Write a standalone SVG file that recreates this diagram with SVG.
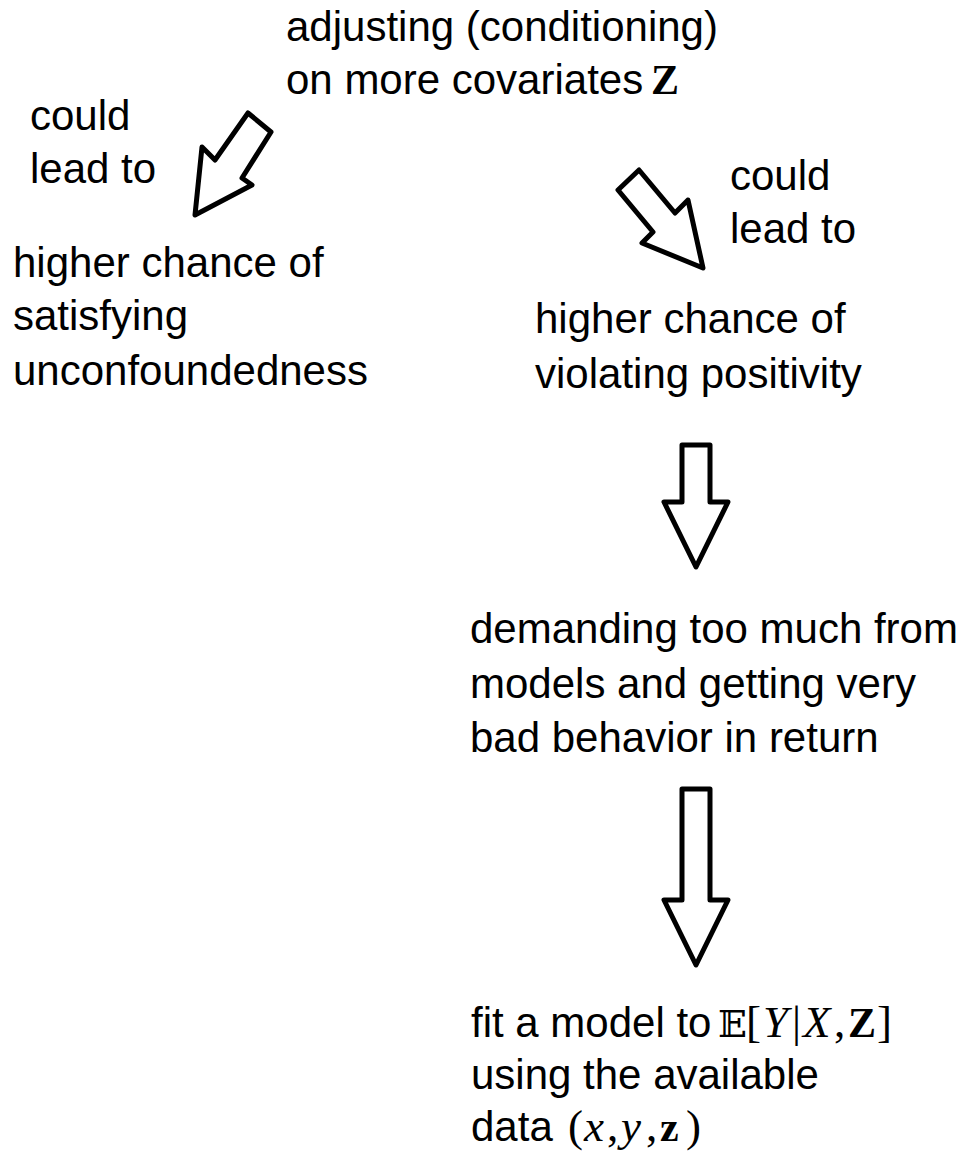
<svg xmlns="http://www.w3.org/2000/svg" width="966" height="1152" viewBox="0 0 966 1152">
<style>
text{font-family:"Liberation Sans",Arial,sans-serif;font-size:42px;fill:#000}
.m{font-family:"Liberation Serif","DejaVu Serif",serif;font-size:45px}
.i{font-style:italic}
.b{font-weight:bold;font-size:42px}
.ds{font-family:"DejaVu Serif","DejaVu Sans",serif;font-size:38px}
.arrow{fill:#fff;stroke:#000;stroke-width:5;stroke-linejoin:round}
</style>
<rect width="966" height="1152" fill="#fff"/>
<g id="n-adjust">
<text x="286" y="41">adjusting (conditioning)</text>
<text x="286" y="94">on more covariates</text>
<text class="m b" x="651" y="94">Z</text>
</g>
<g id="n-could1"><text x="30" y="130">could</text><text x="30" y="183">lead to</text></g>
<g id="n-could2"><text x="730" y="190">could</text><text x="730" y="243">lead to</text></g>
<g id="n-unconf">
<text x="13" y="277">higher chance of</text>
<text x="13" y="330">satisfying</text>
<text x="13" y="385">unconfoundedness</text>
</g>
<g id="n-pos">
<text x="535" y="333">higher chance of</text>
<text x="535" y="388">violating positivity</text>
</g>
<g id="n-demand">
<text x="470" y="643">demanding too much from</text>
<text x="470" y="698">models and getting very</text>
<text x="470" y="752">bad behavior in return</text>
</g>
<g id="n-fit">
<text x="471" y="1037">fit a model to</text>
<text class="ds" x="718" y="1037">𝔼</text>
<text class="m" x="746" y="1037">[</text>
<text class="m i" x="763" y="1037">Y</text>
<text class="m" x="792" y="1037">|</text>
<text class="m i" x="803" y="1037">X</text>
<text class="m" x="834" y="1037">,</text>
<text class="m b" x="848" y="1037">Z</text>
<text class="m" x="877" y="1037">]</text>
<text x="471" y="1089">using the available</text>
<text x="471" y="1141">data</text>
<text class="m" x="568" y="1141">(</text>
<text class="m i" x="584" y="1141">x</text>
<text class="m" x="607" y="1141">,</text>
<text class="m i" x="621" y="1141">y</text>
<text class="m" x="646" y="1141">,</text>
<text class="m b" x="660" y="1141">z</text>
<text class="m" x="686" y="1141">)</text>
</g>
<g id="connectors">
<polygon class="arrow" points="248,113 271,132 242,178 252,185 195,215 202,147 215,160"/>
<polygon class="arrow" points="639,170 618,190 653,232 642,243 703,268 688,200 675,213"/>
<polygon class="arrow" points="682,445 710,445 710,502 728,502 696,567 664,502 682,502"/>
<polygon class="arrow" points="682,789 710,789 710,900 728,900 696,965 664,900 682,900"/>
</g>
</svg>
